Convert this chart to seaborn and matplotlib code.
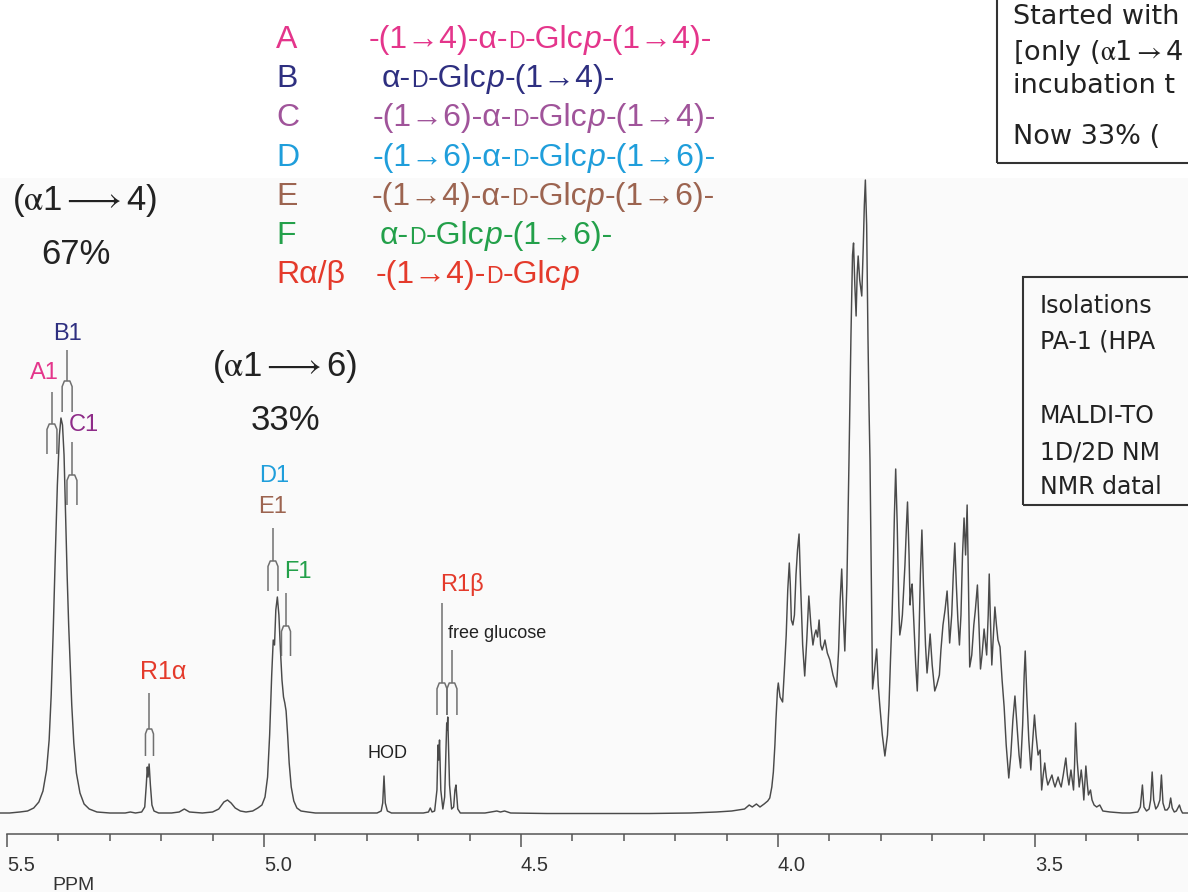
import re
import matplotlib
matplotlib.use("Agg")
import matplotlib.pyplot as plt
import pandas as pd
import seaborn as sns
from matplotlib.patches import Rectangle
from matplotlib.ticker import MultipleLocator

# ---------------- data ----------------
ppm = [5.514, 5.495, 5.475, 5.46, 5.448, 5.438, 5.43, 5.423, 5.418, 5.414, 5.41, 5.406, 5.402, 5.398, 5.395,
       5.392, 5.389, 5.386, 5.383, 5.380, 5.377, 5.374, 5.370, 5.365, 5.358, 5.350, 5.340, 5.325, 5.30,
       5.27, 5.26, 5.25, 5.238, 5.232, 5.229, 5.227, 5.2255, 5.2235, 5.221, 5.218, 5.214, 5.205, 5.18, 5.165,
       5.155, 5.145, 5.12, 5.10, 5.088, 5.078, 5.071, 5.064, 5.056, 5.046, 5.035, 5.022, 5.012,
       5.004, 4.998, 4.993, 4.989, 4.985, 4.982, 4.9795, 4.977, 4.974, 4.971, 4.968, 4.965, 4.962, 4.9595,
       4.957, 4.954, 4.951, 4.947, 4.942, 4.936, 4.928, 4.915, 4.90, 4.85, 4.80, 4.78, 4.772, 4.769, 4.7665,
       4.764, 4.760, 4.752, 4.72, 4.69, 4.68, 4.6765, 4.673, 4.668, 4.6635, 4.6615, 4.6600, 4.6585, 4.656,
       4.652, 4.6485, 4.6445, 4.6435, 4.6425, 4.639, 4.635, 4.631, 4.6285, 4.6265, 4.623, 4.618, 4.60, 4.57,
       4.547, 4.54, 4.532, 4.52, 4.45, 4.35, 4.25, 4.17, 4.12, 4.09, 4.065, 4.056, 4.05, 4.042, 4.035, 4.027,
       4.02, 4.016, 4.012, 4.009, 4.006, 4.004, 4.001, 3.9994, 3.996, 3.991, 3.987, 3.984, 3.981, 3.978,
       3.976, 3.974, 3.971, 3.968, 3.965, 3.962, 3.959, 3.956, 3.952, 3.948, 3.944, 3.940, 3.936, 3.932,
       3.929, 3.926, 3.923, 3.920, 3.917, 3.914, 3.911, 3.9086, 3.904, 3.899, 3.893, 3.886, 3.882, 3.879,
       3.876, 3.873, 3.870, 3.866, 3.862, 3.858, 3.855, 3.853, 3.8505, 3.848, 3.846, 3.844, 3.841, 3.837,
       3.834, 3.832, 3.830, 3.8275, 3.825, 3.823, 3.821, 3.819, 3.816, 3.812, 3.808, 3.805, 3.802, 3.797,
       3.792, 3.787, 3.784, 3.781, 3.778, 3.776, 3.7735, 3.771, 3.768, 3.765, 3.763, 3.760, 3.758, 3.753,
       3.750, 3.748, 3.745, 3.743, 3.741, 3.739, 3.735, 3.732, 3.729, 3.726, 3.723, 3.720, 3.717, 3.713,
       3.710, 3.707, 3.704, 3.700, 3.695, 3.691, 3.686, 3.683, 3.679, 3.675, 3.671, 3.668, 3.666, 3.662,
       3.659, 3.656, 3.653, 3.650, 3.647, 3.644, 3.641, 3.638, 3.635, 3.632, 3.630, 3.627, 3.623, 3.619,
       3.616, 3.612, 3.609, 3.606, 3.603, 3.599, 3.596, 3.594, 3.591, 3.589, 3.587, 3.584, 3.581, 3.578,
       3.575, 3.572, 3.568, 3.564, 3.560, 3.556, 3.551, 3.547, 3.543, 3.539, 3.535, 3.531, 3.528, 3.524,
       3.521, 3.519, 3.516, 3.512, 3.508, 3.505, 3.501, 3.498, 3.494, 3.490, 3.487, 3.484, 3.481, 3.478,
       3.475, 3.471, 3.467, 3.464, 3.461, 3.458, 3.455, 3.452, 3.449, 3.445, 3.440, 3.437, 3.434, 3.430,
       3.4275, 3.425, 3.423, 3.421, 3.418, 3.414, 3.410, 3.407, 3.405, 3.401, 3.398, 3.396, 3.392, 3.389,
       3.385, 3.380, 3.374, 3.368, 3.354, 3.33, 3.315, 3.300, 3.295, 3.291, 3.288, 3.283, 3.278, 3.275,
       3.272, 3.269, 3.265, 3.261, 3.257, 3.254, 3.251, 3.247, 3.243, 3.239, 3.236, 3.233, 3.229, 3.225,
       3.222, 3.219, 3.216, 3.213, 3.202]
intensity = [2, 2, 3, 4, 7, 13, 24, 45, 75, 120, 185, 260, 330, 380, 397,
             390, 360, 300, 240, 190, 150, 110, 72, 42, 22, 11, 6, 3, 2,
             2, 3, 2, 3, 8, 30, 48, 38, 51, 30, 10, 4, 2, 2, 3,
             6, 3, 2, 3, 6, 13, 15, 12, 7, 4, 3, 4, 7,
             10, 18, 38, 80, 140, 175, 170, 205, 218, 200, 165, 135, 118, 112,
             104, 80, 52, 28, 14, 7, 4, 3, 2, 2, 2, 2, 4, 12, 39,
             12, 4, 2, 2, 2, 3, 7, 3, 4, 25, 70, 55, 75, 25,
             6, 18, 92, 85, 98, 30, 6, 8, 25, 30, 6, 2, 2, 2,
             4, 3, 4, 2, 1.5, 1.5, 1.5, 2, 3, 4, 6, 10, 8, 11, 8, 11,
             14, 17, 28, 43, 70, 95, 125, 132, 118, 113, 150, 180, 225, 252,
             230, 195, 190, 200, 240, 265, 281, 230, 170, 139, 175, 219, 190, 170,
             180, 185, 178, 195, 170, 165, 170, 175, 162, 155, 140, 128, 165, 215,
             246, 200, 164, 230, 350, 480, 560, 572, 530, 499, 540, 559, 535, 519,
             570, 610, 635, 590, 480, 410, 355, 260, 126, 145, 166, 130, 110, 80,
             59, 80, 110, 157, 200, 240, 300, 346, 290, 210, 180, 190, 200, 250,
             290, 313, 260, 210, 225, 231, 185, 150, 124, 170, 240, 285, 230, 170,
             142, 160, 181, 150, 124, 130, 140, 165, 190, 205, 224, 195, 172, 200,
             240, 272, 230, 195, 170, 200, 260, 297, 260, 310, 250, 148, 160, 190,
             205, 230, 190, 146, 160, 186, 170, 160, 200, 241, 200, 150, 180, 208,
             190, 175, 168, 135, 108, 70, 37, 60, 95, 119, 90, 60, 47, 90,
             140, 164, 120, 75, 45, 70, 100, 80, 60, 65, 25, 40, 52, 38,
             30, 35, 40, 33, 28, 33, 38, 32, 28, 40, 57, 40, 30, 45,
             35, 25, 50, 92, 55, 28, 45, 30, 15, 49, 30, 20, 25, 15,
             10, 8, 10, 4, 3, 2, 2, 3, 8, 30, 8, 4, 6, 15,
             43, 15, 6, 9, 15, 40, 12, 5, 5, 8, 17, 7, 3, 4,
             7, 10, 5, 2, 2]

tick_values = [5.5, 5.0, 4.5, 4.0, 3.5]
tick_labels = ["5.5", "5.0", "4.5", "4.0", "3.5"]

residue_keys = ["A", "B", "C", "D", "E", "F", "Rα/β"]
residue_structs = ["-(1→4)-α-{D}-Glc{p}-(1→4)-",
                   "α-{D}-Glc{p}-(1→4)-",
                   "-(1→6)-α-{D}-Glc{p}-(1→4)-",
                   "-(1→6)-α-{D}-Glc{p}-(1→6)-",
                   "-(1→4)-α-{D}-Glc{p}-(1→6)-",
                   "α-{D}-Glc{p}-(1→6)-",
                   "-(1→4)-{D}-Glc{p}"]
residue_colors = ["#e4358b", "#2e2f80", "#a0549a", "#1f9edb", "#9c6450", "#23a04a", "#e43a2b"]

# peak assignment labels: text, colour, label position (ppm, intensity)
peak_names = ["A1", "B1", "C1", "D1", "E1", "F1", "R1α", "R1β", "HOD", "free glucose"]
peak_colors = ["#e4358b", "#2e2f80", "#8e2b88", "#1f9edb", "#9c6450", "#23a04a", "#e43a2b", "#e43a2b",
               "#222222", "#222222"]
peak_label_ppm = [5.428, 5.3823, 5.350, 4.9806, 4.9825, 4.9339, 5.1965, 4.6148, 4.7588, 4.642]
peak_label_int = [442, 481, 390, 339, 308, 243, 143, 230, 61, 181]

# doublet markers: stem ppm, half-splitting, stem top, fork top, leg bottom
fork_ppm = [5.4125, 5.383, 5.3736, 4.9825, 4.9572, 5.2228, 4.6537, 4.6343]
fork_half = [0.0097, 0.0097, 0.0097, 0.0097, 0.0088, 0.0078, 0.0097, 0.0097]
fork_top = [423, 465, 373, 287, 222, 122, 212, 165]
fork_mid = [391, 434, 340, 254, 189, 86, 132, 132]
fork_bot = [361, 403, 310, 224, 159, 59, 100, 100]

# text visible in the two (cropped) boxes on the right
box1_lines = ["Started with", r"[only ($\mathrm{\alpha}$1$\rightarrow$4", "incubation t", "Now 33% ("]
box2_lines = ["Isolations", "PA-1 (HPA", "MALDI-TO", "1D/2D NM", "NMR datal"]

W, H = 1188, 892

# ---------------- style ----------------
sns.set_style("ticks")
plt.rcParams["font.family"] = ["Liberation Sans", "DejaVu Sans"]
plt.rcParams["mathtext.fontset"] = "stix"
SANS = ["Liberation Sans", "DejaVu Sans"]
VERD = ["DejaVu Sans"]

fig = plt.figure(figsize=(W / 100, H / 100), dpi=100, facecolor="white")
fig.patches.append(Rectangle((0, 0), 1, 1 - 178 / H, transform=fig.transFigure,
                             facecolor="#fafafa", edgecolor="none", zorder=-10))

ax = fig.add_axes([0, 58 / H, 1, 834 / H])
ax.set_facecolor("none")

df = pd.DataFrame({"ppm": ppm, "intensity": intensity})
sns.lineplot(data=df, x="ppm", y="intensity", sort=False, estimator=None,
             color="#4a4a4a", linewidth=1.05, ax=ax)

ax.set_xlim(5.5136, 3.2023)
ax.set_ylim(-19, 815)
ax.set_xlabel("")
ax.set_ylabel("")
ax.set_yticks([])
for s in ["left", "right", "top"]:
    ax.spines[s].set_visible(False)
ax.spines["bottom"].set_color("#555555")
ax.spines["bottom"].set_linewidth(1.1)
ax.spines["bottom"].set_bounds(5.5, 3.2023)
ax.set_xticks(tick_values)
ax.set_xticklabels(tick_labels)
ax.xaxis.set_minor_locator(MultipleLocator(0.1))
ax.tick_params(axis="x", which="major", direction="out", length=9.5, width=1.1,
               color="#555555", labelsize=14.5, labelcolor="#333333", pad=6)
ax.tick_params(axis="x", which="minor", direction="out", length=5, width=1.1, color="#555555")
for lbl in ax.get_xticklabels():
    lbl.set_horizontalalignment("left")

fig.text(52 / W, 1 - 885 / H, "PPM", ha="left", va="center", fontsize=14, color="#333333",
         family=SANS)

# doublet markers
mk = dict(color="#707070", linewidth=1.1, solid_capstyle="butt")
for x, hw, t, m, b in zip(fork_ppm, fork_half, fork_top, fork_mid, fork_bot):
    r = (m - b) * 0.18
    ax.plot([x, x], [t, m], **mk)
    ax.plot([x - hw, x - hw, x - hw * 0.55, x + hw * 0.55, x + hw, x + hw],
            [b, m - r, m, m, m - r, b], **mk)

# peak labels
for name, c, px, pi in zip(peak_names, peak_colors, peak_label_ppm, peak_label_int):
    if name == "free glucose":
        ax.text(px, pi, name, ha="left", va="center", fontsize=13, color=c, family=SANS)
    elif name == "HOD":
        ax.text(px, pi, name, ha="center", va="center", fontsize=13, color=c, family=SANS)
    elif name == "R1α":
        ax.text(px, pi, name, ha="center", va="center", fontsize=18, color=c, family=SANS)
    else:
        ax.text(px, pi, name, ha="center", va="center", fontsize=17, color=c, family=SANS)

# linkage percentages
big = dict(ha="center", va="center", fontsize=25, color="#222222", family=SANS)
ax.text(5.349, 615, r"($\mathrm{\alpha}$1$\longrightarrow$4)", **big)
ax.text(5.366, 561, "67%", **big)
ax.text(4.9592, 449, r"($\mathrm{\alpha}$1$\longrightarrow$6)", **big)
ax.text(4.959, 395, "33%", **big)

# residue legend (multi-style text runs)
renderer = fig.canvas.get_renderer()
struct_x = [369, 382, 373, 373, 372, 380, 376]
FS = 23
for i, (key, struct, col) in enumerate(zip(residue_keys, residue_structs, residue_colors)):
    yb = 1 - (48 + i * 39.2) / H
    fig.text(276 / W, yb, key, ha="left", va="baseline", fontsize=FS, color=col, family=SANS)
    parts = re.split(r"(\{[^}]*\})", struct)
    xpix = struct_x[i]
    for p in parts:
        if not p:
            continue
        kw = dict(ha="left", va="baseline", color=col, family=SANS, fontsize=FS)
        if p == "{D}":
            p = "D"
            kw["fontsize"] = FS * 0.72
        elif p == "{p}":
            p = "p"
            kw["style"] = "italic"
        t = fig.text(xpix / W, yb, p, **kw)
        bb = t.get_window_extent(renderer)
        xpix = bb.x1

# info boxes on the right (cropped by the figure edge)
box_kw = dict(facecolor="none", edgecolor="#333333", linewidth=1.5, transform=fig.transFigure,
              clip_on=False)
fig.patches.append(Rectangle((997 / W, 1 - 163 / H), 0.4, 0.4, **box_kw))
fig.patches.append(Rectangle((1023 / W, 1 - 505 / H), 0.4, (505 - 277) / H, **box_kw))

box1_y = [17, 53, 86, 137]
for s, y in zip(box1_lines, box1_y):
    fig.text(1013 / W, 1 - y / H, s, ha="left", va="center", fontsize=19.5, color="#222222",
             family=VERD)

box2_y = [306, 341, 416, 452, 487]
for s, y in zip(box2_lines, box2_y):
    fig.text(1040 / W, 1 - y / H, s, ha="left", va="center", fontsize=17, color="#222222",
             family=VERD)

fig.savefig("out.png", dpi=100, facecolor="white")
